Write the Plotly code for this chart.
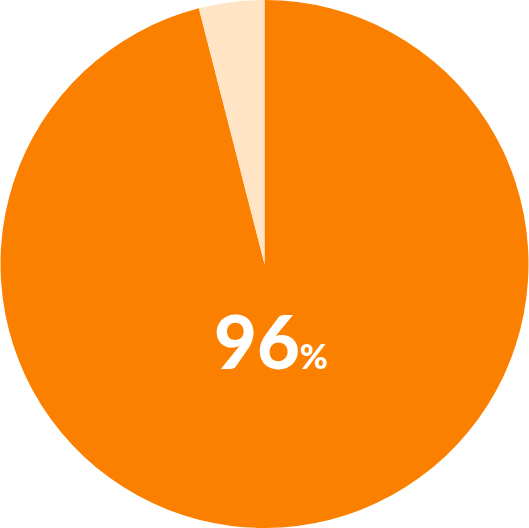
import plotly.graph_objects as go

labels = ["Yes", "No"]
values = [96, 4]
colors = ["#fb8000", "#ffe4c6"]
headline = "96"

fig = go.Figure(
    go.Pie(
        labels=labels,
        values=values,
        marker=dict(colors=colors, line=dict(width=0)),
        sort=False,
        direction="clockwise",
        rotation=0,
        textinfo="none",
        hoverinfo="label+percent",
        showlegend=False,
    )
)

fig.add_annotation(
    x=0.512,
    y=0.356,
    xref="paper",
    yref="paper",
    text=f"{headline}<span style='font-size:34px'>%</span>",
    showarrow=False,
    font=dict(family="Lato", size=74, color="white", weight=900),
)

fig.update_layout(
    width=529,
    height=528,
    margin=dict(l=0, r=0, t=0, b=0),
    paper_bgcolor="white",
)

# page has a default 8px body margin, drop it so the chart sits at 0,0
fig.write_html(
    "out.html",
    config={"displayModeBar": False},
    post_script="document.body.style.margin='0';",
)
